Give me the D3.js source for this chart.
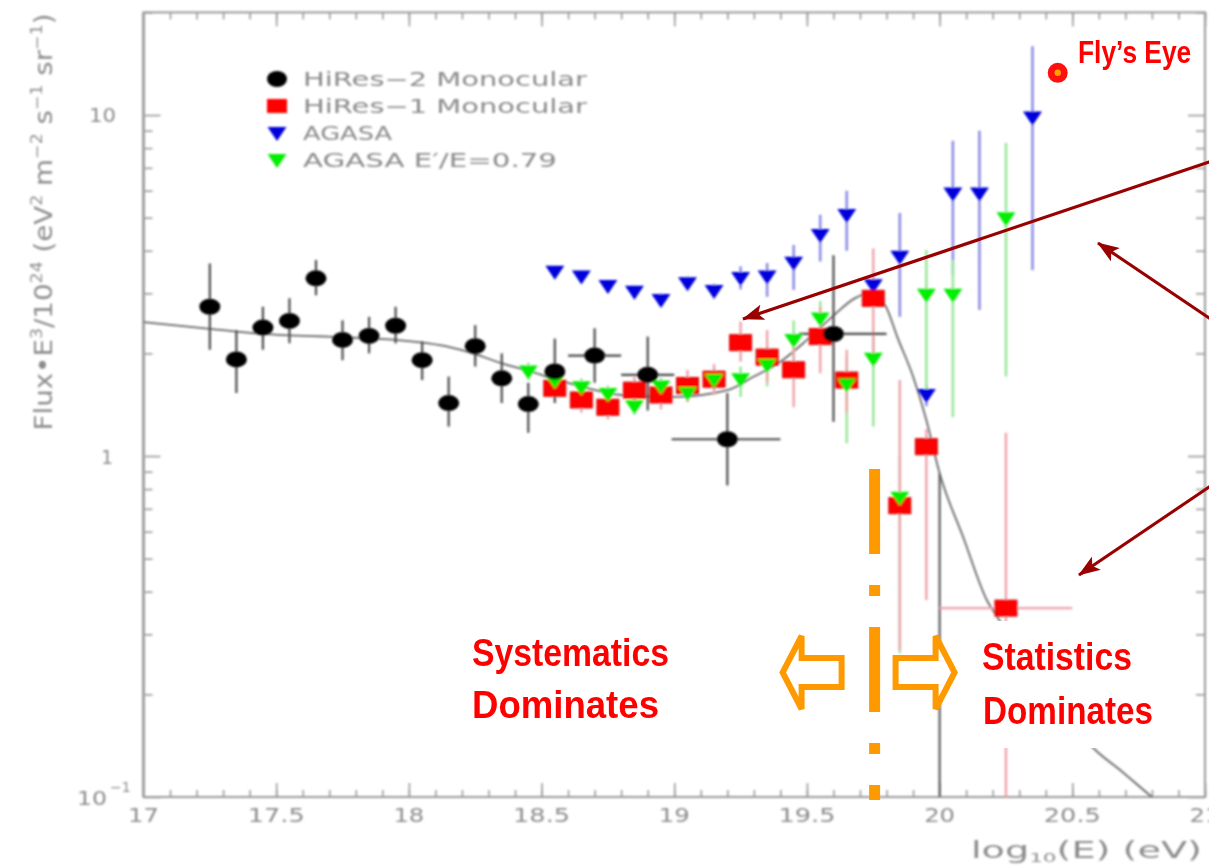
<!DOCTYPE html>
<html>
<head>
<meta charset="utf-8">
<script src="https://cdn.jsdelivr.net/npm/d3@7"></script>
<style>
  body { margin: 0; background: #fff; }
  svg { display: block; }
</style>
</head>
<body>
<svg id="chart" width="1209" height="867"></svg>
<script>
// ---------------- Data: log10(E/eV) and Flux*E^3/10^24 ----------------
// HiRes-2 monocular
const hires2LogE  = [17.25, 17.35, 17.45, 17.55, 17.65, 17.75, 17.85, 17.95, 18.05, 18.15, 18.25, 18.35, 18.45, 18.55, 18.70, 18.90, 19.20, 19.60];
const hires2Flux  = [2.74, 1.92, 2.38, 2.49, 3.32, 2.19, 2.25, 2.41, 1.91, 1.43, 2.10, 1.69, 1.42, 1.77, 1.97, 1.73, 1.12, 2.28];
const hires2Hi    = [3.67, 2.34, 2.74, 2.90, 3.76, 2.50, 2.56, 2.74, 2.17, 1.71, 2.42, 2.00, 1.64, 2.21, 2.37, 2.24, 1.53, 3.88];
const hires2Lo    = [2.05, 1.53, 2.05, 2.14, 2.96, 1.91, 2.00, 2.14, 1.67, 1.22, 1.83, 1.43, 1.17, 1.43, 1.64, 1.36, 0.82, 1.26];
const hires2BinLo = [null, null, null, null, null, null, null, null, null, null, null, null, null, null, 18.60, 18.80, 18.99, 19.47];
const hires2BinHi = [null, null, null, null, null, null, null, null, null, null, null, null, null, null, 18.80, 19.00, 19.40, 19.80];

// HiRes-1 monocular
const hires1LogE  = [18.55, 18.65, 18.75, 18.85, 18.95, 19.05, 19.15, 19.25, 19.35, 19.45, 19.55, 19.65, 19.75, 19.85, 19.95, 20.25];
const hires1Flux  = [1.58, 1.46, 1.39, 1.56, 1.51, 1.61, 1.68, 2.15, 1.95, 1.79, 2.24, 1.67, 2.90, 0.715, 1.065, 0.358];
const hires1Hi    = [1.72, 1.59, 1.51, 1.71, 1.66, 1.79, 1.86, 2.48, 2.34, 2.14, 2.74, 2.05, 4.06, 1.67, 1.20, 1.17];
const hires1Lo    = [1.45, 1.34, 1.28, 1.42, 1.37, 1.44, 1.51, 1.89, 1.64, 1.39, 1.75, 1.34, 1.83, 0.27, 0.378, 0.1];
const hires1BinLo = [null, null, null, null, null, null, null, null, null, null, null, null, null, null, null, 20.0];
const hires1BinHi = [null, null, null, null, null, null, null, null, null, null, null, null, null, null, null, 20.5];

// AGASA
const agasaLogE = [18.55, 18.65, 18.75, 18.85, 18.95, 19.05, 19.15, 19.25, 19.35, 19.45, 19.55, 19.65, 19.75, 19.85, 19.95, 20.05, 20.15, 20.35];
const agasaFlux = [3.47, 3.36, 3.15, 3.03, 2.87, 3.21, 3.05, 3.33, 3.36, 3.69, 4.45, 5.09, 3.17, 3.84, 1.51, 5.89, 5.89, 9.84];
const agasaHi   = [3.60, 3.49, 3.28, 3.16, 3.00, 3.36, 3.20, 3.60, 3.68, 4.16, 5.10, 6.00, 3.45, 5.16, 1.62, 8.40, 9.00, 15.9];
const agasaLo   = [3.34, 3.23, 3.02, 2.90, 2.74, 3.06, 2.90, 3.08, 2.93, 3.07, 3.72, 4.00, 2.90, 2.56, 1.40, 3.40, 2.68, 3.51];

// AGASA with energy scale E'/E = 0.79
const agasaScaledLogE = [18.45, 18.55, 18.65, 18.75, 18.85, 18.95, 19.05, 19.15, 19.25, 19.35, 19.45, 19.55, 19.65, 19.75, 19.85, 19.95, 20.05, 20.25];
const agasaScaledFlux = [1.77, 1.66, 1.59, 1.52, 1.40, 1.60, 1.53, 1.67, 1.68, 1.85, 2.19, 2.53, 1.62, 1.93, 0.754, 2.97, 2.97, 4.98];
const agasaScaledHi   = [1.88, 1.76, 1.69, 1.61, 1.49, 1.70, 1.63, 1.80, 1.83, 2.09, 2.50, 2.85, 1.95, 2.30, 1.00, 4.02, 3.76, 8.30];
const agasaScaledLo   = [1.67, 1.57, 1.50, 1.43, 1.32, 1.51, 1.44, 1.55, 1.49, 1.60, 1.91, 2.22, 1.09, 1.22, 0.264, 1.46, 1.30, 1.71];

// Fly's Eye point
const flysEyeLogE = [20.445];
const flysEyeFlux = [13.3];

// Model spectrum (GZK-type fit)
const modelLogE = [17.0, 17.25, 17.45, 17.75, 17.95, 18.15, 18.25, 18.35, 18.45, 18.55, 18.65, 18.80, 19.0, 19.2, 19.3, 19.4, 19.5, 19.6, 19.68, 19.72, 19.76, 19.80, 19.84, 19.90, 19.95, 20.0, 20.09, 20.18, 20.22, 20.3, 20.4, 20.5, 20.58, 20.68, 20.8, 20.85];
const modelFlux = [2.47, 2.36, 2.28, 2.23, 2.19, 2.09, 1.99, 1.87, 1.78, 1.68, 1.60, 1.51, 1.49, 1.56, 1.71, 1.89, 2.19, 2.58, 2.90, 2.98, 2.98, 2.72, 2.24, 1.71, 1.275, 0.89, 0.575, 0.375, 0.335, 0.262, 0.205, 0.165, 0.139, 0.12, 0.10, 0.093];
const modelCutoffLogE = [20.0, 20.0];
const modelCutoffFlux = [0.89, 0.1];

// Axis ticks and labels
const xMajorTicks = [17, 17.5, 18, 18.5, 19, 19.5, 20, 20.5, 21];
const xTickLabels = ["17", "17.5", "18", "18.5", "19", "19.5", "20", "20.5", "21"];
const yMajorTicks = [0.1, 1, 10];
const yMinorTicks = [0.2, 0.3, 0.4, 0.5, 0.6, 0.7, 0.8, 0.9, 2, 3, 4, 5, 6, 7, 8, 9, 20];

// Legend
const legendLabels = ["HiRes\u22122 Monocular", "HiRes\u22121 Monocular", "AGASA", "AGASA E\u2032/E=0.79"];
const legendShapes = ["circle", "square", "triangle", "triangle"];
const legendColors = ["#000000", "#ff0000", "#0000dd", "#00ee00"];

// Boundary between the two regimes
const boundaryLogE = 19.755;

// ---------------- Scales ----------------
const svg = d3.select("#chart");
const x = d3.scaleLinear().domain([17, 21]).range([143.5, 1205]);
const y = d3.scaleLog().domain([0.1, 20]).range([797, 12.4]);
const [X0, X1] = x.range();
const [Y0, Y1] = y.range();

svg.append("rect").attr("width", 1209).attr("height", 867).attr("fill", "#fff");

const defs = svg.append("defs");
defs.append("filter").attr("id", "soft").attr("x", "-5%").attr("y", "-5%").attr("width", "110%").attr("height", "110%")
  .append("feGaussianBlur").attr("stdDeviation", 0.85);
defs.append("clipPath").attr("id", "plotClip")
  .append("rect").attr("x", X0).attr("y", Y1).attr("width", X1 - X0).attr("height", Y0 - Y1);
defs.append("marker").attr("id", "redHead")
  .attr("viewBox", "0 0 22 16").attr("refX", 21).attr("refY", 8)
  .attr("markerWidth", 22).attr("markerHeight", 16).attr("markerUnits", "userSpaceOnUse")
  .attr("orient", "auto")
  .append("path").attr("d", "M0,0 L22,8 L0,16 L5,8 Z").attr("fill", "#990000");

const plot = svg.append("g").attr("filter", "url(#soft)");

// ---------------- Frame and ticks ----------------
const frameColor = "#9a9a9a";
const minorX = d3.range(170, 211).map(d => d / 10);
function tickAxis(gen, tx, ty, vals, size) {
  const g = plot.append("g").attr("transform", `translate(${tx},${ty})`)
    .call(gen.tickValues(vals).tickSize(size).tickFormat(""));
  g.select(".domain").remove();
  g.selectAll("line").attr("stroke", frameColor).attr("stroke-width", 1.6);
}
tickAxis(d3.axisTop(x), 0, Y0, minorX, 7);
tickAxis(d3.axisTop(x), 0, Y0, xMajorTicks, 14);
tickAxis(d3.axisBottom(x), 0, Y1, minorX, 7);
tickAxis(d3.axisBottom(x), 0, Y1, xMajorTicks, 14);
tickAxis(d3.axisRight(y), X0, 0, yMinorTicks, 9);
tickAxis(d3.axisRight(y), X0, 0, yMajorTicks, 17);
tickAxis(d3.axisLeft(y), X1, 0, yMinorTicks, 9);
tickAxis(d3.axisLeft(y), X1, 0, yMajorTicks, 17);

plot.append("rect").attr("x", X0).attr("y", Y1).attr("width", X1 - X0).attr("height", Y0 - Y1)
  .attr("fill", "none").attr("stroke", frameColor).attr("stroke-width", 2);
plot.append("line").attr("x1", X0).attr("x2", X0).attr("y1", Y1).attr("y2", Y0)
  .attr("stroke", "#a0a0a0").attr("stroke-width", 3);

// Tick labels
const labelColor = "#8c8c8c";
const labelFont = "'DejaVu Sans', 'Liberation Sans', sans-serif";
xMajorTicks.forEach((v, i) => {
  const t = plot.append("text").attr("x", x(v)).attr("y", 822)
    .attr("text-anchor", "middle").attr("font-family", labelFont).attr("font-size", 20)
    .attr("fill", labelColor).text(xTickLabels[i]);
  t.attr("textLength", xTickLabels[i].length > 2 ? 57 : 31).attr("lengthAdjust", "spacingAndGlyphs");
});
// y labels: 10 and 1 right-aligned, 10^-1 with exponent
plot.append("text").attr("x", 116).attr("y", y(10) + 7).attr("text-anchor", "end")
  .attr("font-family", labelFont).attr("font-size", 19).attr("fill", labelColor)
  .attr("textLength", 27).attr("lengthAdjust", "spacingAndGlyphs").text("10");
plot.append("text").attr("x", 113).attr("y", y(1) + 8).attr("text-anchor", "end")
  .attr("font-family", labelFont).attr("font-size", 19).attr("fill", labelColor).text("1");
const tenth = plot.append("text").attr("x", 77).attr("y", y(0.1) + 8)
  .attr("font-family", labelFont).attr("font-size", 19).attr("fill", labelColor);
tenth.append("tspan").attr("textLength", 30).attr("lengthAdjust", "spacingAndGlyphs").text("10");
tenth.append("tspan").attr("dy", -13).attr("dx", 3).attr("font-size", 14).text("\u22121");

// Axis titles
const xt = plot.append("text").attr("x", 971).attr("y", 858)
  .attr("font-family", labelFont).attr("font-size", 23).attr("fill", labelColor)
  .attr("textLength", 231).attr("lengthAdjust", "spacingAndGlyphs");
xt.append("tspan").text("log");
xt.append("tspan").attr("font-size", 13).attr("dy", 4).text("10");
xt.append("tspan").attr("dy", -4).text("(E) (eV)");

const yt = plot.append("text").attr("transform", "translate(52,222) rotate(-90)")
  .attr("text-anchor", "middle").attr("font-family", labelFont).attr("font-size", 24)
  .attr("fill", labelColor).attr("textLength", 417).attr("lengthAdjust", "spacingAndGlyphs");
const ytParts = [["Flux\u2022E", 0], ["3", 1], ["/10", 0], ["24", 1], [" (eV", 0], ["2", 1], [" m", 0], ["\u22122", 1], [" s", 0], ["\u22121", 1], [" sr", 0], ["\u22121", 1], [")", 0]];
let prevSup = 0;
ytParts.forEach(([s, sup]) => {
  const ts = yt.append("tspan").text(s);
  const shift = (sup - prevSup) * -10;
  if (shift) ts.attr("dy", shift);
  if (sup) ts.attr("font-size", 15);
  prevSup = sup;
});

// ---------------- Data layer ----------------
const data = plot.append("g").attr("clip-path", "url(#plotClip)");
const line = d3.line().x(d => x(d[0])).y(d => y(d[1])).curve(d3.curveMonotoneX);

data.append("path").datum(d3.zip(modelLogE, modelFlux)).attr("d", line)
  .attr("fill", "none").attr("stroke", "#666").attr("stroke-width", 1.8);
data.append("path").datum(d3.zip(modelCutoffLogE, modelCutoffFlux)).attr("d", d3.line().x(d => x(d[0])).y(d => y(d[1])))
  .attr("fill", "none").attr("stroke", "#5a5a5a").attr("stroke-width", 2.2);

function errorBars(logE, flux, lo, hi, binLo, binHi, color, width) {
  const g = data.append("g").attr("stroke", color).attr("stroke-width", width);
  logE.forEach((e, i) => {
    g.append("line").attr("x1", x(e)).attr("x2", x(e))
      .attr("y1", y(Math.max(lo[i], 0.09))).attr("y2", y(hi[i]));
    if (binLo && binLo[i] != null) {
      g.append("line").attr("x1", x(binLo[i])).attr("x2", x(binHi[i]))
        .attr("y1", y(flux[i])).attr("y2", y(flux[i]));
    }
  });
}
const tri = "M-9.5,-6 L9.5,-6 L0,8 Z";
function markers(logE, flux, shape, color) {
  const g = data.append("g");
  logE.forEach((e, i) => {
    const cx = x(e), cy = y(flux[i]);
    if (shape === "circle") {
      g.append("ellipse").attr("cx", cx).attr("cy", cy).attr("rx", 10.5).attr("ry", 8).attr("fill", color);
    } else if (shape === "square") {
      g.append("rect").attr("x", cx - 11).attr("y", cy - 8).attr("width", 22).attr("height", 16)
        .attr("fill", color).attr("stroke", "#d20000").attr("stroke-width", 1);
    } else {
      g.append("path").attr("d", tri).attr("transform", `translate(${cx},${cy})`).attr("fill", color);
    }
  });
}

errorBars(agasaLogE, agasaFlux, agasaLo, agasaHi, null, null, "#8d8de6", 2.6);
errorBars(agasaScaledLogE, agasaScaledFlux, agasaScaledLo, agasaScaledHi, null, null, "#9be69b", 2.6);
errorBars(hires1LogE, hires1Flux, hires1Lo, hires1Hi, hires1BinLo, hires1BinHi, "#eea0a8", 2.4);
errorBars(hires2LogE, hires2Flux, hires2Lo, hires2Hi, hires2BinLo, hires2BinHi, "#4a4a4a", 2.2);

markers(agasaLogE, agasaFlux, "triangle", "#0000dd");
markers(hires1LogE, hires1Flux, "square", "#ff0000");
markers(agasaScaledLogE, agasaScaledFlux, "triangle", "#00ee00");
markers(hires2LogE, hires2Flux, "circle", "#000000");

// ---------------- Legend ----------------
const legendWidths = [284, 284, 89, 254];
legendLabels.forEach((lab, i) => {
  const ly = 79 + i * 27;
  const g = plot.append("g").attr("transform", `translate(277,${ly})`);
  if (legendShapes[i] === "circle") g.append("ellipse").attr("rx", 10).attr("ry", 8).attr("fill", legendColors[i]);
  else if (legendShapes[i] === "square") g.append("rect").attr("x", -10).attr("y", -7).attr("width", 20).attr("height", 14).attr("fill", legendColors[i]);
  else g.append("path").attr("d", tri).attr("fill", legendColors[i]);
  plot.append("text").attr("x", 303).attr("y", ly + 7)
    .attr("font-family", labelFont).attr("font-size", 19).attr("fill", "#8a8a8a")
    .attr("textLength", legendWidths[i]).attr("lengthAdjust", "spacingAndGlyphs").text(lab);
});

// ---------------- Annotations ----------------
const ann = svg.append("g");
const boldFont = "'Liberation Sans Narrow', 'Liberation Sans', Arial, sans-serif";

// Fly's Eye point and label (condensed via horizontal scaling)
flysEyeLogE.forEach((e, i) => {
  ann.append("circle").attr("cx", x(e)).attr("cy", y(flysEyeFlux[i])).attr("r", 10).attr("fill", "#ff1010");
  ann.append("circle").attr("cx", x(e)).attr("cy", y(flysEyeFlux[i])).attr("r", 3.2).attr("fill", "#ffa000");
});
ann.append("text").attr("transform", "translate(1078,63) scale(0.85,1)")
  .attr("font-family", "'Liberation Sans', Arial, sans-serif").attr("font-weight", "bold")
  .attr("font-size", 31).attr("fill", "#ff0000").text("Fly\u2019s Eye");

// White panel behind the right-hand caption
ann.append("rect").attr("x", 944).attr("y", 621).attr("width", 226).attr("height", 127).attr("fill", "#fff");

// Captions
function caption(txt, x0, base, w) {
  ann.append("text").attr("x", x0).attr("y", base).attr("font-family", boldFont).attr("font-weight", "bold")
    .attr("font-size", 38).attr("fill", "#ff0000").attr("textLength", w).attr("lengthAdjust", "spacingAndGlyphs")
    .text(txt);
}
caption("Systematics", 472, 666, 197);
caption("Dominates", 472, 718, 187);
caption("Statistics", 982, 670, 150);
caption("Dominates", 983, 724, 170);

// Dash-dot boundary line
const bx = x(boundaryLogE);
ann.append("line").attr("x1", bx).attr("x2", bx).attr("y1", 469).attr("y2", Y0 + 3)
  .attr("stroke", "#ff9900").attr("stroke-width", 11).attr("stroke-dasharray", "85,31,11,31");

// Hollow arrows on each side of the boundary
const rightArrow = [[bx + 21, 658], [bx + 61, 658], [bx + 61, 636], [bx + 80, 672.5], [bx + 61, 709], [bx + 61, 687], [bx + 21, 687]];
const leftArrow = rightArrow.map(([px, py]) => [2 * bx - px - 12, py]);
[rightArrow, leftArrow].forEach(pts => {
  ann.append("path").attr("d", d3.line()(pts) + "Z").attr("fill", "#fff")
    .attr("stroke", "#ff9900").attr("stroke-width", 6).attr("stroke-linejoin", "miter");
});

// Pointer lines from the right margin
const pointers = [[[1215, 160], [743, 319]], [[1215, 322], [1098, 243]], [[1215, 483], [1079, 575]]];
pointers.forEach(([a, b]) => {
  ann.append("line").attr("x1", a[0]).attr("y1", a[1]).attr("x2", b[0]).attr("y2", b[1])
    .attr("stroke", "#990000").attr("stroke-width", 3.2).attr("marker-end", "url(#redHead)");
});
</script>
</body>
</html>
